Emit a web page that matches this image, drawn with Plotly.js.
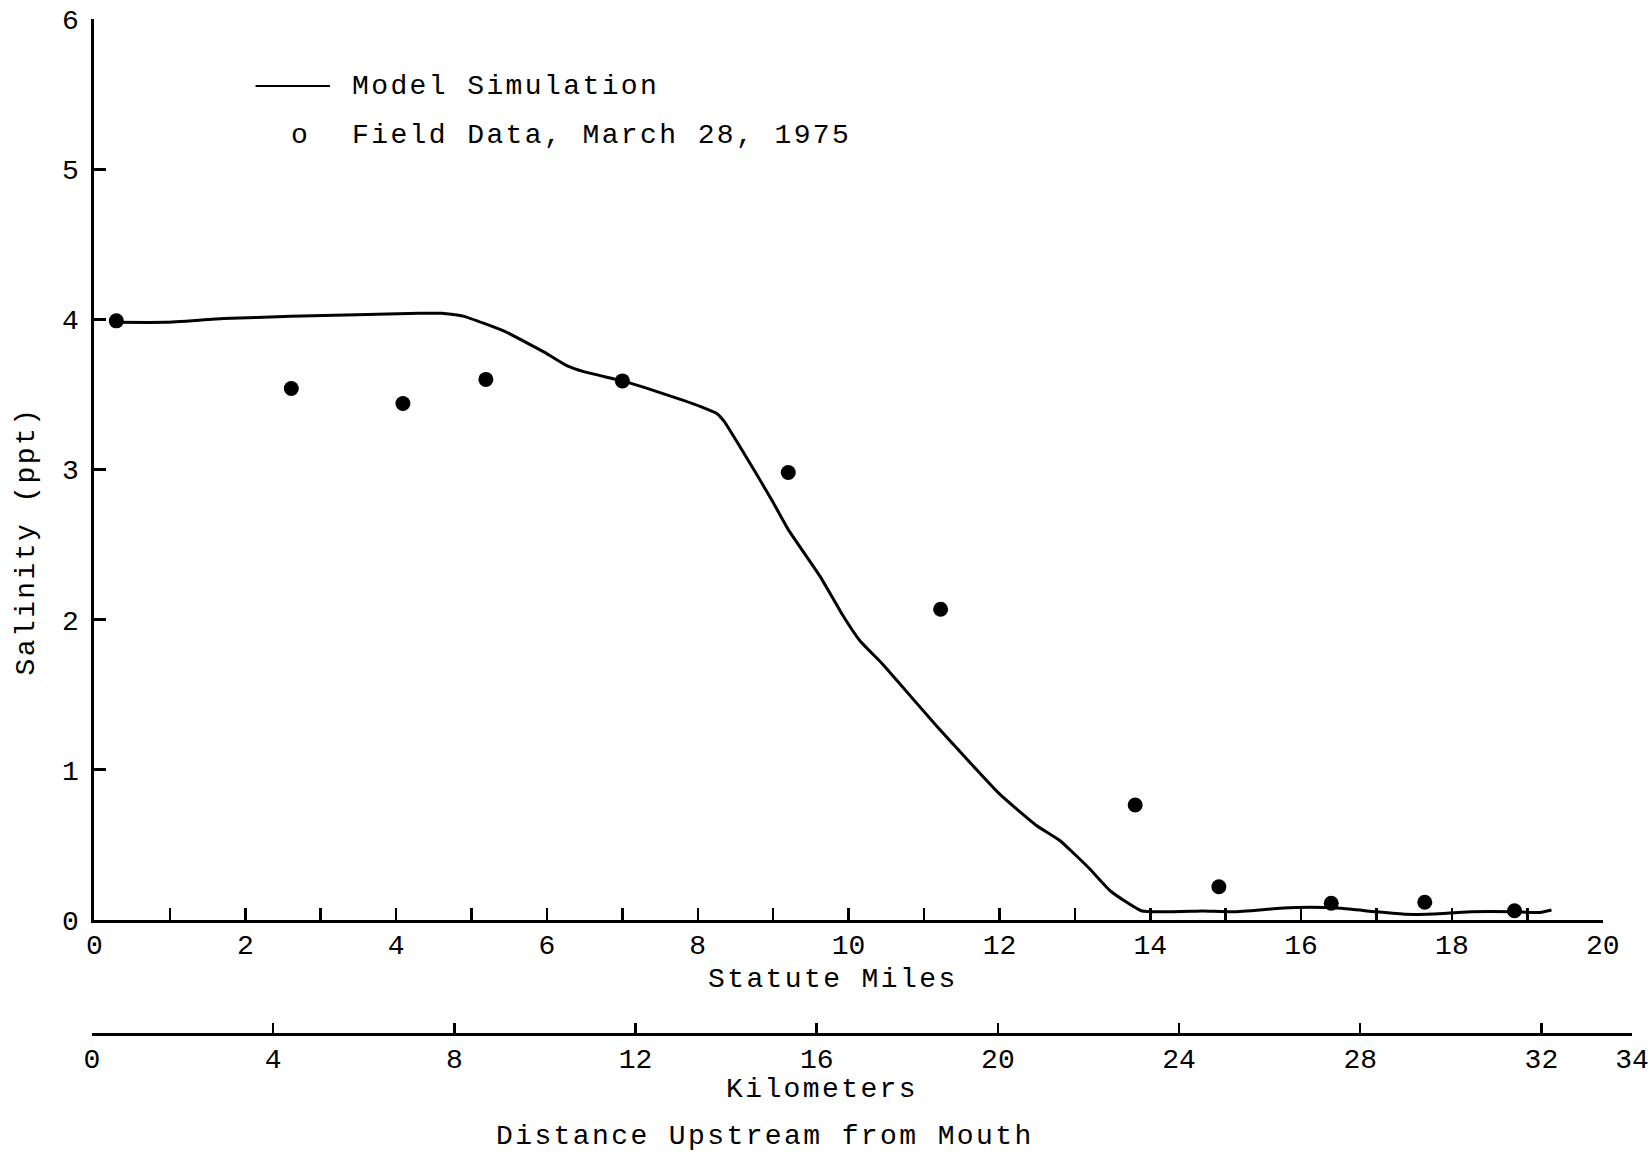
<!DOCTYPE html>
<html><head><meta charset="utf-8">
<script src="https://cdn.plot.ly/plotly-3.0.1.min.js"></script>
<style>
html,body{margin:0;padding:0;background:#fff;}
#chart{width:1650px;height:1155px;}
.annotation-text{letter-spacing:2.4px;}
</style></head><body><div id="chart"></div>
<script>
// Model simulation curve (statute miles, salinity ppt)
const modelMiles = [0.28, 0.94, 1.71, 2.6, 3.48, 4.31, 4.61, 4.90, 5.44, 5.97, 6.27, 6.50, 7.0, 7.33, 7.81, 8.03, 8.26, 8.35, 8.61, 8.79, 9.00, 9.20, 9.62, 9.91, 10.15, 10.44, 10.65, 11.17, 12.0, 12.49, 12.80, 13.18, 13.48, 13.89, 14.70, 15.11, 15.72, 16.12, 16.53, 16.99, 17.39, 17.75, 18.26, 18.83, 19.17, 19.32];
const modelSalinity = [3.98, 3.98, 4.005, 4.02, 4.03, 4.04, 4.04, 4.02, 3.92, 3.78, 3.69, 3.65, 3.59, 3.54, 3.46, 3.42, 3.37, 3.32, 3.11, 2.96, 2.78, 2.60, 2.29, 2.04, 1.86, 1.71, 1.59, 1.29, 0.84, 0.63, 0.53, 0.35, 0.19, 0.06, 0.06, 0.055, 0.078, 0.085, 0.078, 0.055, 0.038, 0.04, 0.055, 0.055, 0.05, 0.067];
// Field data, March 28, 1975
const fieldMiles = [0.29, 2.61, 4.09, 5.19, 7.0, 9.20, 11.22, 13.80, 14.91, 16.40, 17.64, 18.83];
const fieldSalinity = [3.99, 3.54, 3.44, 3.60, 3.59, 2.98, 2.07, 0.766, 0.222, 0.112, 0.118, 0.062];
// Axes ticks
const mileTickVals = [0,1,2,3,4,5,6,7,8,9,10,11,12,13,14,15,16,17,18,19,20];
const mileTickText = ['0','','2','','4','','6','','8','','10','','12','','14','','16','','18','','20'];
const kmTickVals = [0,4,8,12,16,20,24,28,32,34];
const kmTickText = ['0','4','8','12','16','20','24','28','32','34'];
const yTickVals = [0,1,2,3,4,5,6];
const yTickText = ['0','1','2','3','4','5','6'];
// Texts
const legendLabels = ['Model Simulation', 'Field Data, March 28, 1975'];
const legendSymbol = 'o';
const yTitle = 'Salinity (ppt)';
const milesTitle = 'Statute Miles';
const kmTitle = 'Kilometers';
const distTitle = 'Distance Upstream from Mouth';

const FONT = 'Liberation Mono, Courier New, monospace';
const fs = 28;
const tf = {family: FONT, size: fs, color: '#000'};

const traces = [
  {x: modelMiles, y: modelSalinity, xaxis: 'x', yaxis: 'y', mode: 'lines', type: 'scatter',
   line: {color: '#000', width: 3, shape: 'spline', smoothing: 0.4}, hoverinfo: 'skip', name: legendLabels[0]},
  {x: fieldMiles, y: fieldSalinity, xaxis: 'x', yaxis: 'y', mode: 'markers', type: 'scatter',
   marker: {color: '#000', size: 15, symbol: 'circle'}, hoverinfo: 'skip', name: legendLabels[1]},
  {x: [], y: [], xaxis: 'x2', yaxis: 'y2', mode: 'markers', type: 'scatter', hoverinfo: 'skip', showlegend: false}
];

const layout = {
  width: 1650, height: 1155,
  margin: {l: 92, r: 18, t: 19, b: 122, pad: 0},
  paper_bgcolor: '#fff', plot_bgcolor: 'rgba(0,0,0,0)',
  showlegend: false,
  font: tf,
  xaxis: {
    domain: [0.0016, 0.981], range: [0, 20], autorange: false, anchor: 'y',
    tickmode: 'array', tickvals: mileTickVals, ticktext: mileTickText,
    ticks: 'inside', ticklen: 12, tickwidth: 2.5, tickcolor: '#000',
    showline: true, linewidth: 3, linecolor: '#000',
    showgrid: false, zeroline: false, tickfont: tf, ticklabelstandoff: -3, fixedrange: true
  },
  yaxis: {
    domain: [0.1114, 1], range: [0, 6], autorange: false, anchor: 'x',
    tickmode: 'array', tickvals: yTickVals, ticktext: yTickText,
    ticks: 'inside', ticklen: 12, tickwidth: 3, tickcolor: '#000',
    showline: true, linewidth: 3, linecolor: '#000',
    showgrid: false, zeroline: false, tickfont: tf, ticklabelstandoff: 7, fixedrange: true
  },
  xaxis2: {
    domain: [0, 1], range: [0, 34], autorange: false, anchor: 'y2',
    tickmode: 'array', tickvals: kmTickVals, ticktext: kmTickText,
    ticks: 'inside', ticklen: 10, tickwidth: 2.5, tickcolor: '#000',
    showline: true, linewidth: 3, linecolor: '#000',
    showgrid: false, zeroline: false, tickfont: tf, ticklabelstandoff: -2, fixedrange: true
  },
  yaxis2: {
    domain: [0, 0.05], range: [0, 1], anchor: 'x2', visible: false, fixedrange: true
  },
  shapes: [
    {type: 'line', xref: 'paper', yref: 'paper', x0: 0.1062, x1: 0.1545, y0: 0.9339, y1: 0.9339,
     line: {color: '#000', width: 2}}
  ],
  annotations: [
    {text: legendLabels[0], xref: 'paper', yref: 'paper', x: 0.1675, y: 0.9339, xanchor: 'left', yanchor: 'middle', showarrow: false, font: tf},
    {text: legendSymbol, xref: 'paper', yref: 'paper', x: 0.1357, y: 0.8856, xanchor: 'center', yanchor: 'middle', showarrow: false, font: tf},
    {text: legendLabels[1], xref: 'paper', yref: 'paper', x: 0.1675, y: 0.8856, xanchor: 'left', yanchor: 'middle', showarrow: false, font: tf},
    {text: yTitle, xref: 'paper', yref: 'paper', x: -0.0427, y: 0.485, xanchor: 'center', yanchor: 'middle', textangle: -90, showarrow: false, font: tf},
    {text: milesTitle, xref: 'paper', yref: 'paper', x: 0.4812, y: 0.0523, xanchor: 'center', yanchor: 'middle', showarrow: false, font: tf},
    {text: kmTitle, xref: 'paper', yref: 'paper', x: 0.474, y: -0.0562, xanchor: 'center', yanchor: 'middle', showarrow: false, font: tf},
    {text: distTitle, xref: 'paper', yref: 'paper', x: 0.437, y: -0.1023, xanchor: 'center', yanchor: 'middle', showarrow: false, font: tf}
  ]
};

Plotly.newPlot('chart', traces, layout, {displayModeBar: false, staticPlot: true});
</script>
</body></html>
